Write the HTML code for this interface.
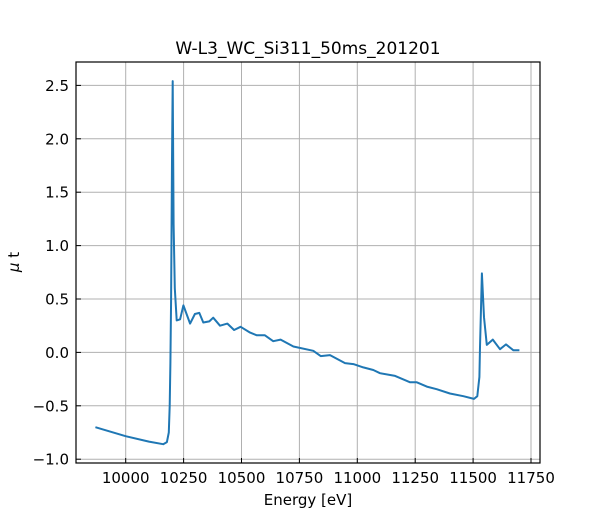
<!DOCTYPE html>
<html><head><meta charset="utf-8"><style>
body{margin:0;background:#fff;}
svg text{font-family:"DejaVu Sans","Liberation Sans",sans-serif;fill:#000;}
</style></head><body>
<svg id="chart" width="600" height="520" xmlns="http://www.w3.org/2000/svg">
<rect width="600" height="520" fill="#fff"/>
<g id="grid"></g>
<g id="ticks"></g>
<path id="line" fill="none" stroke="#1f77b4" stroke-width="2" stroke-linejoin="round"/>
<rect x="76" y="62" width="464" height="401" fill="none" stroke="#000" stroke-width="1.2"/>
<text x="308" y="54" font-size="17" text-anchor="middle">W-L3_WC_Si311_50ms_201201</text>
<text x="308" y="505" font-size="15" text-anchor="middle">Energy [eV]</text>
<text transform="translate(19,262) rotate(-90)" font-size="15" text-anchor="middle"><tspan font-style="italic">μ</tspan> t</text>
</svg>
<script>
const xTicks=[10000,10250,10500,10750,11000,11250,11500,11750];
const yTicks=[-1.0,-0.5,0.0,0.5,1.0,1.5,2.0,2.5];
const energy=[9869,9900,10000,10100,10162,10178,10186,10190,10193,10196,10200,10203,10207,10212,10220,10235,10249,10278,10299,10318,10335,10361,10378,10407,10439,10468,10496,10537,10566,10601,10637,10669,10724,10810,10842,10882,10947,10983,11026,11069,11098,11163,11228,11257,11300,11343,11400,11458,11504,11518,11527,11530,11538,11547,11559,11585,11616,11642,11674,11700];
const mu=[-0.70,-0.72,-0.785,-0.835,-0.86,-0.84,-0.75,-0.5,-0.1,0.5,1.8,2.54,1.2,0.6,0.30,0.31,0.44,0.27,0.36,0.37,0.28,0.29,0.325,0.25,0.27,0.21,0.24,0.185,0.16,0.16,0.105,0.12,0.055,0.015,-0.035,-0.025,-0.10,-0.11,-0.14,-0.165,-0.195,-0.22,-0.28,-0.28,-0.32,-0.345,-0.385,-0.41,-0.435,-0.41,-0.23,0.05,0.74,0.33,0.07,0.12,0.03,0.075,0.02,0.02];
const X=e=>125.7+(e-10000)*0.2316;
const Y=v=>352.4-v*106.8;
const NS="http://www.w3.org/2000/svg";
const grid=document.getElementById('grid'),ticks=document.getElementById('ticks');
function el(t,a,p){const n=document.createElementNS(NS,t);for(const k in a)n.setAttribute(k,a[k]);p.appendChild(n);return n;}
xTicks.forEach(t=>{const x=X(t);
const g=el('line',{x1:x,x2:x,y1:62,y2:463,stroke:'#b0b0b0','stroke-width':1},grid);


const tk=el('line',{x1:x,x2:x,y1:463,y2:458,stroke:'#000'},ticks);


const tx=el('text',{x:x,y:483,'font-size':15,'text-anchor':'middle'},ticks);tx.textContent=t;

});
yTicks.forEach(t=>{const y=Y(t);
const g=el('line',{x1:76,x2:540,y1:y,y2:y,stroke:'#b0b0b0','stroke-width':1},grid);


const tk=el('line',{x1:76,x2:81,y1:y,y2:y,stroke:'#000'},ticks);


const tx=el('text',{x:69,y:y+5.5,'font-size':15,'text-anchor':'end'},ticks);tx.textContent=t.toFixed(1).replace('-','\u2212');

});
document.getElementById('line').setAttribute('d',energy.map((e,i)=>(i?'L':'M')+X(e).toFixed(1)+','+Y(mu[i]).toFixed(1)).join(''));
</script>
</body></html>
